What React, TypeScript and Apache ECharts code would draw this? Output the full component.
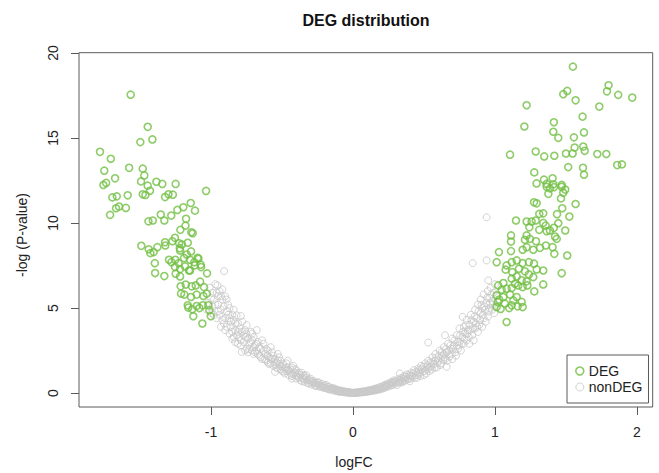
import React, { useEffect, useRef } from "react";
import * as echarts from "echarts";

const xTicks = [-1, 0, 1, 2];
const yTicks = [0, 5, 10, 15, 20];

const degLeft: [number, number][] = [
  [-1.566,17.55],[-1.446,15.66],[-1.498,14.76],[-1.413,14.92],[-1.782,14.19],[-1.706,13.78],[-1.752,13.08],[-1.577,13.25],[-1.481,13.2],[-1.676,12.63],
  [-1.47,12.8],[-1.758,12.24],[-1.739,12.36],[-1.493,12.45],[-1.446,12.2],[-1.385,12.43],[-1.343,12.3],[-1.249,12.3],[-1.035,11.89],[-1.43,11.9],
  [-1.481,11.69],[-1.462,11.65],[-1.587,11.63],[-1.695,11.51],[-1.664,11.57],[-1.324,11.53],[-1.3,11.69],[-1.269,11.67],[-1.143,11.18],[-1.195,10.93],
  [-1.669,10.87],[-1.648,10.97],[-1.6,10.89],[-1.237,10.77],[-1.113,10.73],[-1.711,10.48],[-1.354,10.5],[-1.28,10.44],[-1.441,10.1],[-1.41,10.15],
  [-1.329,10.15],[-1.176,10.25],[-1.18,9.85],[-1.216,9.6],[-1.139,9.46],[-1.129,9.4],[-1.254,9.13],[-1.324,8.87],[-1.322,8.68],[-1.272,8.93],
  [-1.225,8.81],[-1.206,8.74],[-1.164,8.84],[-1.491,8.66],[-1.439,8.46],[-1.427,8.23],[-1.404,8.29],[-1.378,8.58],[-1.22,8.52],[-1.218,8.39],
  [-1.141,8.33],[-1.171,8.15],[-1.094,7.96],[-1.089,7.9],[-1.073,7.55],[-1.296,7.84],[-1.279,7.7],[-1.251,7.84],[-1.228,7.64],[-1.19,7.94],
  [-1.148,7.84],[-1.118,7.7],[-1.254,7.41],[-1.218,7.29],[-1.183,7.45],[-1.155,7.21],[-1.115,7.51],[-1.07,7.41],[-1.396,7.64],[-1.394,7.06],
  [-1.329,6.88],[-1.249,7.02],[-1.218,6.86],[-1.148,7.21],[-1.028,7.04],[-1.214,6.28],[-1.178,6.38],[-1.136,6.28],[-1.108,6.33],[-1.077,6.55],
  [-1.049,6.23],[-1.211,5.85],[-1.188,5.79],[-1.141,5.65],[-1.101,5.79],[-1.054,5.71],[-1.03,5.85],[-1.164,5.16],[-1.132,4.93],[-1.101,5.12],
  [-1.082,5.0],[-1.058,5.16],[-1.019,5.16],[-1.012,4.87],[-1.125,4.52],[-1.061,4.09],[-1.002,4.52],[-1.16,5.03]
];

const degRight: [number, number][] = [
  [1.549,19.2],[1.8,18.1],[1.789,17.75],[1.868,17.54],[1.967,17.38],[1.481,17.58],[1.509,17.77],[1.568,17.22],[1.223,16.93],[1.735,16.85],
  [1.617,16.26],[1.207,15.68],[1.415,15.93],[1.411,15.37],[1.446,15.01],[1.556,15.04],[1.627,15.33],[1.106,14.02],[1.287,14.21],[1.347,13.92],
  [1.418,13.96],[1.5,14.09],[1.547,14.09],[1.561,14.44],[1.622,14.5],[1.632,14.25],[1.721,14.06],[1.784,14.06],[1.861,13.41],[1.894,13.45],
  [1.277,12.98],[1.516,13.29],[1.62,13.25],[1.627,12.84],[1.345,12.55],[1.406,12.63],[1.293,12.33],[1.364,12.3],[1.411,12.28],[1.47,12.24],
  [1.364,12.13],[1.387,12.04],[1.415,12.11],[1.47,12.13],[1.495,11.97],[1.481,11.78],[1.376,11.72],[1.465,11.45],[1.275,11.22],[1.294,11.16],
  [1.568,11.12],[1.474,10.87],[1.312,10.54],[1.34,10.57],[1.437,10.52],[1.524,10.38],[1.148,10.15],[1.223,10.09],[1.258,10.09],[1.287,10.15],
  [1.34,10.01],[1.357,9.85],[1.387,9.56],[1.415,9.72],[1.446,9.99],[1.495,9.56],[1.242,9.75],[1.312,9.6],[1.364,9.52],[1.423,9.21],
  [1.435,9.07],[1.113,9.27],[1.113,8.91],[1.223,9.27],[1.211,9.01],[1.246,9.07],[1.289,8.93],[1.195,8.43],[1.223,8.58],[1.27,8.43],
  [1.317,8.54],[1.359,8.68],[1.406,8.58],[1.418,8.19],[1.509,8.09],[1.113,8.35],[1.028,8.29],[1.012,7.7],[1.082,7.51],[1.118,7.7],
  [1.153,7.8],[1.195,7.64],[1.239,7.7],[1.275,7.61],[1.34,7.21],[1.47,7.05],[1.294,7.27],[1.075,7.26],[1.122,7.11],[1.169,7.31],
  [1.211,7.16],[1.239,6.98],[1.27,6.82],[1.118,6.73],[1.153,6.86],[1.188,6.63],[1.223,6.57],[1.141,6.43],[1.34,6.39],[1.277,5.98],
  [1.059,6.47],[1.023,6.33],[1.047,6.08],[1.082,6.14],[1.118,6.18],[1.164,6.33],[1.195,6.23],[1.228,6.33],[1.012,5.75],[1.059,5.65],
  [1.106,5.79],[1.153,5.65],[1.019,5.36],[1.07,5.26],[1.118,5.16],[1.188,5.36],[1.195,5.06],[1.012,5.06],[1.082,4.18],[1.04,4.95],
  [1.1,5.0],[1.16,5.1],[1.03,5.5],[1.13,5.45]
];

const nonDeg: [number, number][] = [
  [-1.02,5.3],[-1.0,4.7],[-0.99,5.9],[-1.01,6.2],[-0.98,5.5],[-0.97,6.4],[-0.99,5.1],
  [-0.96,4.4],[-0.95,5.7],[-0.94,6.0],[-0.955,6.33],[-0.93,4.9],[-0.95,5.2],[-0.92,5.5],[-0.94,4.6],[-0.908,7.17],
  [-0.9,5.69],[-0.91,4.1],[-0.89,4.8],[-0.88,5.2],[-0.9,3.7],[-0.87,4.4],[-0.89,5.5],[-0.86,3.9],
  [-0.85,4.6],[-0.84,3.3],[-0.83,4.1],[-0.85,3.6],[-0.82,4.57],[-0.79,4.53],[-0.84,4.9],[-0.83,3.0],
  [-0.8,3.8],[-0.81,2.9],[-0.78,4.2],[-0.784,2.42],[-0.77,3.4],[-0.79,3.1],[-0.76,3.7],
  [-0.749,3.99],[-0.75,2.6],[-0.74,3.2],[-0.73,2.9],[-0.72,3.6],[-0.74,2.4],[-0.71,3.1],
  [-0.7,2.3],[-0.69,2.8],[-0.678,3.7],[-0.68,2.5],[-0.67,3.0],[-0.7,3.3],[-0.66,2.2],
  [-0.65,2.6],[-0.64,2.0],[-0.63,2.9],[-0.62,2.3],[-0.64,3.1],[-0.61,1.9],[-0.6,2.5],
  [-0.59,2.1],[-0.58,1.75],[-0.57,2.4],[-0.56,1.6],[-0.58,2.7],[-0.55,2.0],[-0.549,1.25],[-0.58,2.0],
  [-0.54,1.8],[-0.53,1.45],[-0.52,2.1],[-0.51,1.6],[-0.53,2.3],[-0.5,1.3],[-0.52,1.7],
  [-0.49,1.7],[-0.48,1.15],[-0.47,1.5],[-0.46,1.9],[-0.45,1.05],[-0.47,1.3],[-0.46,1.35],
  [-0.44,1.4],[-0.43,1.0],[-0.42,1.6],[-0.41,1.2],[-0.43,0.85],[-0.4,1.35],[-0.4,1.05],
  [-0.39,0.95],[-0.38,1.2],[-0.37,0.75],[-0.361,1.19],[-0.36,0.9],[-0.35,1.05],[-0.34,0.8],
  [-0.34,0.65],[-0.33,0.9],[-0.32,0.75],[-0.31,0.55],[-0.3,0.85],[-0.33,1.05],[-0.28,0.6],
  [-0.29,0.5],[-0.28,0.72],[-0.27,0.6],[-0.26,0.4],[-0.25,0.65],[-0.24,0.48],[-0.22,0.4],
  [-0.23,0.35],[-0.22,0.55],[-0.21,0.42],[-0.2,0.3],[-0.19,0.48],[-0.18,0.25],[-0.16,0.25],
  [-0.17,0.38],[-0.16,0.2],[-0.15,0.3],[-0.14,0.15],[-0.13,0.26],[-0.12,0.12],[-0.1,0.13],
  [-0.11,0.2],[-0.1,0.08],[-0.09,0.16],[-0.08,0.06],[-0.07,0.12],[-0.06,0.04],[-0.05,0.09],[-0.04,0.03],[-0.03,0.06],[-0.02,0.01],[-0.01,0.03],
  [0,0.0],[0.01,0.02],
  [0.02,0.03],[0.03,0.05],[0.04,0.02],[0.05,0.07],[0.06,0.04],[0.07,0.1],[0.08,0.06],[0.09,0.13],[0.1,0.08],[0.11,0.17],
  [0.12,0.11],[0.13,0.2],[0.14,0.14],[0.15,0.25],[0.16,0.18],[0.16,0.22],[0.17,0.3],[0.18,0.22],[0.19,0.36],[0.2,0.27],
  [0.21,0.42],[0.22,0.31],[0.22,0.38],[0.23,0.5],[0.24,0.36],[0.25,0.58],[0.26,0.42],[0.27,0.66],[0.28,0.5],[0.28,0.6],
  [0.29,0.75],[0.3,0.56],[0.31,0.48],[0.32,0.82],[0.33,1.15],[0.33,0.62],[0.34,0.9],[0.34,0.75],[0.35,0.7],[0.36,1.0],
  [0.37,0.78],[0.38,1.1],[0.39,0.86],[0.4,0.7],[0.4,1.0],[0.41,1.2],[0.42,0.95],[0.43,1.35],[0.44,1.05],[0.45,0.9],
  [0.46,1.45],[0.46,1.2],[0.47,1.15],[0.48,1.6],[0.49,1.25],[0.5,1.05],[0.51,1.75],[0.52,1.4],[0.52,1.55],[0.53,2.97],
  [0.53,1.9],[0.54,1.3],[0.55,1.55],[0.56,2.1],[0.57,1.7],[0.58,2.3],[0.58,1.9],[0.59,1.5],[0.6,1.9],[0.61,2.5],
  [0.62,1.75],[0.63,2.2],[0.64,2.7],[0.64,2.3],[0.648,3.4],[0.65,2.0],[0.66,1.54],[0.66,2.4],[0.67,2.9],[0.68,2.15],
  [0.69,2.6],[0.7,3.2],[0.7,2.0],[0.71,2.8],[0.72,2.4],[0.73,3.4],[0.74,2.6],[0.75,3.0],[0.75,3.8],[0.76,2.5],
  [0.77,3.3],[0.772,4.48],[0.78,2.9],[0.78,3.9],[0.79,3.5],[0.8,3.1],[0.8,4.3],[0.81,3.7],[0.82,2.9],[0.82,4.0],
  [0.83,4.6],[0.84,3.4],[0.843,7.64],[0.85,4.2],[0.85,3.1],[0.86,4.9],[0.86,3.8],[0.87,4.4],[0.88,3.6],[0.88,5.2],
  [0.89,4.0],[0.9,4.7],[0.9,5.5],[0.91,3.9],[0.91,5.0],[0.92,4.4],[0.92,5.8],[0.93,4.9],[0.94,5.3],[0.941,7.8],
  [0.941,10.34],[0.95,4.5],[0.953,6.63],[0.95,6.0],[0.96,5.0],[0.96,5.6],[0.97,6.2],[0.98,4.9],[0.98,5.4],[0.99,5.9],
  [1.0,6.4],[1.0,5.1],[1.01,5.7],
  [-1.03,4.9],[-1.0,5.6],[-0.98,4.6],[-0.97,5.2],[-0.96,5.9],[-0.95,4.8],[-0.93,5.7],[-0.92,4.3],[-0.91,5.1],[-0.9,4.4],[-0.92,6.1],[-0.93,3.9],
  [-0.89,3.9],[-0.88,4.6],[-0.87,3.5],[-0.87,5.0],[-0.86,4.2],[-0.85,3.2],[-0.84,4.3],[-0.83,3.7],[-0.82,3.4],[-0.81,4.1],[-0.8,3.3],[-0.81,3.6],
  [-0.79,2.8],[-0.78,3.6],[-0.77,3.0],[-0.76,3.3],[-0.76,2.5],[-0.75,3.5],[-0.73,2.6],[-0.72,3.0],[-0.71,2.5],[-0.71,3.5],[-0.7,2.7],
  [-0.69,2.4],[-0.68,2.9],[-0.67,2.3],[-0.66,2.7],[-0.65,2.1],[-0.63,2.5],[-0.62,2.0],[-0.61,2.6],[-0.6,2.2],[-0.6,1.8],
  [-0.59,1.7],[-0.57,2.0],[-0.56,2.2],[-0.55,1.7],[-0.54,1.5],[-0.53,1.9],[-0.51,1.4],[-0.51,1.9],[-0.5,1.55],
  [-0.49,1.25],[-0.48,1.45],[-0.47,1.75],[-0.45,1.3],[-0.44,1.15],[-0.43,1.5],[-0.42,1.1],[-0.41,1.4],[-0.4,0.85],
  [-0.39,1.15],[-0.38,0.9],[-0.37,1.05],[-0.36,0.7],[-0.35,0.85],[-0.34,1.0],[-0.32,0.6],[-0.31,0.8],[-0.3,0.65],
  [-0.29,0.7],[-0.27,0.45],[-0.26,0.58],[-0.25,0.42],[-0.24,0.6],[-0.23,0.45],[-0.21,0.32],[-0.2,0.45],
  [-0.19,0.3],[-0.18,0.36],[-0.17,0.22],[-0.15,0.22],[-0.14,0.28],[-0.13,0.18],[-0.12,0.2],[-0.11,0.11],
  [-0.095,0.1],[-0.085,0.12],[-0.075,0.07],[-0.065,0.09],[-0.055,0.05],[-0.045,0.06],[-0.035,0.02],[-0.025,0.04],[-0.015,0.02],[-0.005,0.01],
  [0.005,0.01],[0.015,0.01],[0.025,0.02],[0.035,0.03],[0.045,0.05],[0.055,0.04],[0.065,0.07],[0.075,0.05],[0.085,0.09],[0.095,0.07],
  [0.105,0.12],[0.115,0.1],[0.125,0.15],[0.135,0.13],[0.145,0.19],[0.155,0.15],[0.165,0.24],[0.175,0.19],[0.185,0.28],[0.195,0.22],
  [0.205,0.33],[0.215,0.28],[0.225,0.45],[0.235,0.4],[0.245,0.46],[0.255,0.52],[0.265,0.55],[0.275,0.45],[0.285,0.62],[0.295,0.68],
  [0.305,0.7],[0.315,0.62],[0.325,0.68],[0.335,0.8],[0.345,0.62],[0.355,0.86],[0.365,0.72],[0.375,0.95],[0.385,0.8],[0.395,1.05],
  [0.405,0.85],[0.415,1.0],[0.425,1.15],[0.435,0.9],[0.445,1.25],[0.455,1.05],[0.465,1.35],[0.475,1.0],[0.485,1.4],[0.495,1.55],
  [0.505,1.3],[0.515,1.15],[0.525,1.65],[0.535,1.5],[0.545,1.8],[0.555,1.4],[0.565,1.85],[0.575,1.5],[0.585,2.05],[0.595,1.75],
  [0.605,2.2],[0.615,1.65],[0.625,2.4],[0.635,1.95],[0.645,2.1],[0.655,2.6],[0.665,1.9],[0.675,2.5],[0.685,2.8],[0.695,2.3],
  [0.705,2.6],[0.715,3.1],[0.725,2.2],[0.735,3.0],[0.745,2.8],[0.755,3.4],[0.765,2.9],[0.775,3.6],[0.785,3.2],[0.795,4.0],
  [0.805,3.5],[0.815,3.3],[0.825,3.7],[0.835,4.3],[0.845,3.8],[0.855,4.5],[0.865,4.1],[0.875,3.9],[0.885,4.8],[0.895,4.3],
  [0.905,5.2],[0.915,4.6],[0.925,5.1],[0.935,4.2],[0.945,5.6],[0.955,4.8],[0.965,5.3],[0.975,5.8],[0.985,5.2],[0.995,4.7]
];

const GREEN = "#72bf44";
const GRAY = "#c8c8c8";
const FONT = "'Liberation Sans', Arial, Helvetica, sans-serif";

export default function App() {
  const ref = useRef<HTMLDivElement>(null);
  useEffect(() => {
    if (!ref.current) return;
    const chart = echarts.init(ref.current, undefined, { renderer: "svg" });
    chart.setOption({
      animation: false,
      backgroundColor: "#ffffff",
      textStyle: { fontFamily: FONT },
      grid: {
        left: 79,
        right: 6.3,
        top: 52.7,
        bottom: 66,
        show: true,
        borderColor: "#5a5a5a",
        borderWidth: 1,
        containLabel: false,
        outerBoundsMode: "none",
      },
      xAxis: {
        type: "value",
        min: -1.93,
        max: 2.111,
        splitLine: { show: false },
        axisLine: { show: false, onZero: false },
        axisTick: { show: true, length: 8, customValues: xTicks, lineStyle: { color: "#5a5a5a" } },
        axisLabel: { customValues: xTicks, margin: 18, fontSize: 14, color: "#222", fontFamily: FONT },
      },
      yAxis: {
        type: "value",
        min: -0.82,
        max: 20.02,
        splitLine: { show: false },
        axisLine: { show: false, onZero: false },
        axisTick: { show: true, length: 8, customValues: yTicks, lineStyle: { color: "#5a5a5a" } },
        axisLabel: { customValues: yTicks, rotate: 90, margin: 19, fontSize: 14, color: "#222", fontFamily: FONT },
      },
      legend: {
        orient: "vertical",
        left: 567,
        top: 355,
        padding: [9, 6, 9, 8],
        itemGap: 2,
        itemWidth: 8,
        itemHeight: 8,
        borderColor: "#5a5a5a",
        borderWidth: 1,
        backgroundColor: "#ffffff",
        textStyle: { fontSize: 14, color: "#222", fontFamily: FONT },
        data: [
          { name: "DEG", icon: "circle", itemStyle: { color: "rgba(0,0,0,0)", borderColor: GREEN, borderWidth: 1.6 } },
          { name: "nonDEG", icon: "circle", itemStyle: { color: "rgba(0,0,0,0)", borderColor: GRAY, borderWidth: 1 } },
        ],
      },
      graphic: [
        {
          type: "text",
          x: 366,
          y: 20,
          style: { text: "DEG distribution", font: `bold 16px ${FONT}`, fill: "#111", textAlign: "center", textVerticalAlign: "middle" },
        },
        {
          type: "text",
          x: 354,
          y: 462,
          style: { text: "logFC", font: `14px ${FONT}`, fill: "#222", textAlign: "center", textVerticalAlign: "middle" },
        },
        {
          type: "text",
          x: 22,
          y: 235,
          rotation: Math.PI / 2,
          style: { text: "-log (P-value)", font: `14px ${FONT}`, fill: "#222", textAlign: "center", textVerticalAlign: "middle" },
        },
      ],
      series: [
        {
          name: "nonDEG",
          type: "scatter",
          symbol: "circle",
          symbolSize: 7,
          silent: true,
          itemStyle: { color: "rgba(0,0,0,0)", borderColor: GRAY, borderWidth: 1 },
          data: nonDeg,
        },
        {
          name: "DEG",
          type: "scatter",
          symbol: "circle",
          symbolSize: 7,
          silent: true,
          itemStyle: { color: "rgba(0,0,0,0)", borderColor: GREEN, borderWidth: 1.6 },
          data: [...degLeft, ...degRight],
        },
      ],
    });
    return () => chart.dispose();
  }, []);
  return <div ref={ref} style={{ position: "absolute", left: 0, top: 0, width: 659, height: 473 }} />;
}
